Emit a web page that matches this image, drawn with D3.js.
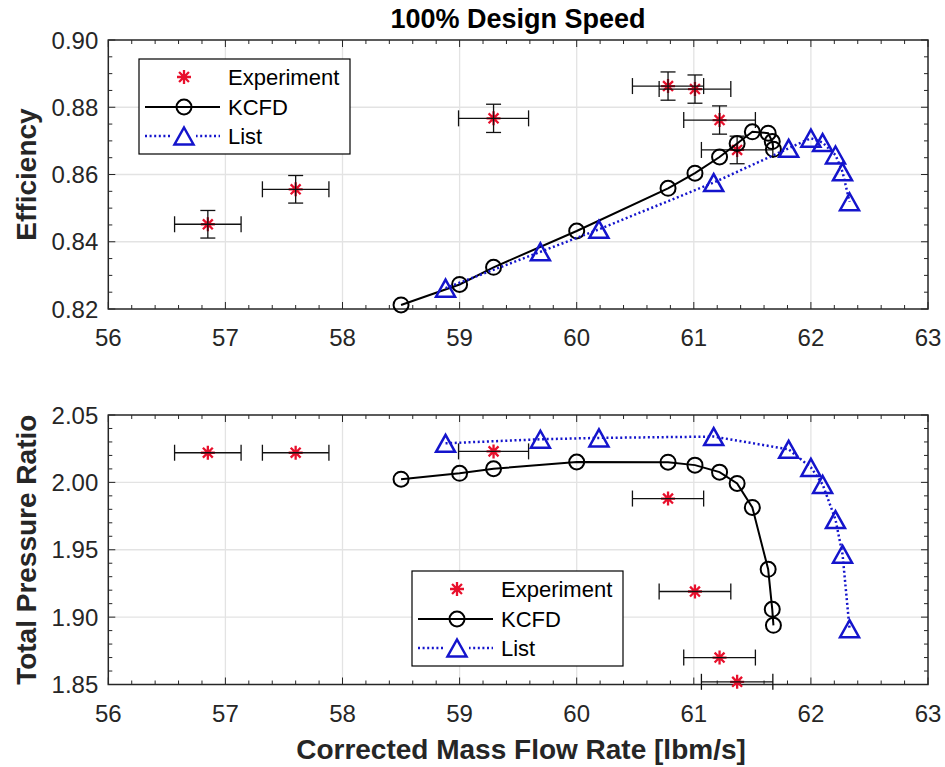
<!DOCTYPE html>
<html>
<head>
<meta charset="utf-8">
<script src="https://cdn.jsdelivr.net/npm/d3@7"></script>
<style>
  body { margin: 0; background: #fff; }
  svg { display: block; font-family: "Liberation Sans", Arial, Helvetica, sans-serif; }
</style>
</head>
<body>
<svg id="chart" width="945" height="767"></svg>
<script>
// experiment (with error bars)
const expFlow = [56.85, 57.60, 59.29, 60.78, 61.01, 61.22, 61.37];
const expFlowErr = [0.284, 0.284, 0.299, 0.304, 0.306, 0.306, 0.305];
const expEff = [0.8452, 0.8556, 0.8767, 0.8863, 0.8854, 0.8762, 0.8673];
const expEffErr = [0.0041, 0.0041, 0.0042, 0.0042, 0.0042, 0.0042, 0.0041];
const expPR = [2.022, 2.022, 2.023, 1.988, 1.919, 1.870, 1.852];

// KCFD
const kcfdFlow = [58.50, 59.00, 59.29, 60.00, 60.78, 61.01, 61.22, 61.37, 61.50, 61.635, 61.67, 61.68];
const kcfdEff = [0.8212, 0.8273, 0.8324, 0.8432, 0.8559, 0.8604, 0.8652, 0.8692, 0.8727, 0.8723, 0.8698, 0.8675];
const kcfdPR = [2.0024, 2.0067, 2.0101, 2.0151, 2.0150, 2.0128, 2.0076, 1.9992, 1.9814, 1.9355, 1.9058, 1.8939];

// List
const listFlow = [58.88, 59.69, 60.19, 61.17, 61.81, 62.00, 62.10, 62.21, 62.27, 62.33];
const listEff = [0.8262, 0.8370, 0.8437, 0.8576, 0.8678, 0.8708, 0.8695, 0.8658, 0.8608, 0.8519];
const listPR = [2.029, 2.032, 2.033, 2.034, 2.0245, 2.0111, 1.9985, 1.9724, 1.9467, 1.8914];

const xTicks = [56, 57, 58, 59, 60, 61, 62, 63];
const effTicks = [0.82, 0.84, 0.86, 0.88, 0.90];
const prTicks = [1.85, 1.90, 1.95, 2.00, 2.05];

const seriesNames = ["Experiment", "KCFD", "List"];

const textCol = "#262626";
const redCol = "#e8102c";
const blueCol = "#1414cc";

const svg = d3.select("#chart");

const x = d3.scaleLinear().domain([56, 63]).range([108.3, 928]);

const panels = [
  {
    y: d3.scaleLinear().domain([0.82, 0.90]).range([309, 40]),
    ticks: effTicks, minorStep: 0.005, label: "Efficiency",
    exp: expEff, expErr: expEffErr, kcfd: kcfdEff, list: listEff,
    legend: { x: 139, y: 59 }
  },
  {
    y: d3.scaleLinear().domain([1.85, 2.05]).range([684.5, 415]),
    ticks: prTicks, minorStep: 0.01, label: "Total Pressure Ratio",
    exp: expPR, expErr: null, kcfd: kcfdPR, list: listPR,
    legend: { x: 412, y: 571 }
  }
];

function asterisk(g, cx, cy, s) {
  const d = s * 0.7071;
  g.append("path")
    .attr("d", `M${cx - s},${cy}L${cx + s},${cy}M${cx},${cy - s}L${cx},${cy + s}` +
      `M${cx - d},${cy - d}L${cx + d},${cy + d}M${cx - d},${cy + d}L${cx + d},${cy - d}`)
    .attr("stroke", redCol).attr("stroke-width", 2.3).attr("fill", "none");
}

function triangle(g, cx, cy) {
  const w = 9.5, h = 8.5;
  g.append("path")
    .attr("d", `M${cx},${cy - h}L${cx + w},${cy + h}L${cx - w},${cy + h}Z`)
    .attr("fill", "none").attr("stroke", blueCol).attr("stroke-width", 2.5)
    .attr("stroke-linejoin", "miter");
}

function circleMark(g, cx, cy) {
  g.append("circle").attr("cx", cx).attr("cy", cy).attr("r", 7.5)
    .attr("fill", "none").attr("stroke", "#000").attr("stroke-width", 2);
}

panels.forEach((p) => {
  const y = p.y;
  const [y0, y1] = y.domain();
  const top = y.range()[1], bottom = y.range()[0];
  const left = x.range()[0], right = x.range()[1];
  const g = svg.append("g");

  // grid
  g.append("g").selectAll("line").data(xTicks.slice(1, -1)).join("line")
    .attr("x1", (d) => x(d)).attr("x2", (d) => x(d))
    .attr("y1", top).attr("y2", bottom)
    .attr("stroke", "#e3e3e3").attr("stroke-width", 1.3);
  g.append("g").selectAll("line").data(p.ticks.slice(1, -1)).join("line")
    .attr("x1", left).attr("x2", right)
    .attr("y1", (d) => y(d)).attr("y2", (d) => y(d))
    .attr("stroke", "#e3e3e3").attr("stroke-width", 1.3);

  // minor + major ticks on all sides (inward)
  const xMinor = d3.range(56, 63.0001, 0.2);
  const yMinor = d3.range(y0, y1 + 1e-9, p.minorStep);
  const tk = g.append("g").attr("stroke", textCol).attr("stroke-width", 1);
  xMinor.forEach((v) => {
    const major = xTicks.some((t) => Math.abs(t - v) < 1e-6);
    const len = major ? 7 : 4;
    tk.append("line").attr("x1", x(v)).attr("x2", x(v)).attr("y1", bottom).attr("y2", bottom - len);
    tk.append("line").attr("x1", x(v)).attr("x2", x(v)).attr("y1", top).attr("y2", top + len);
  });
  yMinor.forEach((v) => {
    const major = p.ticks.some((t) => Math.abs(t - v) < 1e-6);
    const len = major ? 7 : 4;
    tk.append("line").attr("x1", left).attr("x2", left + len).attr("y1", y(v)).attr("y2", y(v));
    tk.append("line").attr("x1", right).attr("x2", right - len).attr("y1", y(v)).attr("y2", y(v));
  });

  // box
  g.append("rect").attr("x", left).attr("y", top)
    .attr("width", right - left).attr("height", bottom - top)
    .attr("fill", "none").attr("stroke", textCol).attr("stroke-width", 1.5);

  // tick labels
  g.append("g").selectAll("text").data(xTicks).join("text")
    .attr("x", (d) => x(d)).attr("y", bottom + 37)
    .attr("text-anchor", "middle").attr("font-size", 24).attr("fill", textCol)
    .text((d) => d);
  g.append("g").selectAll("text").data(p.ticks).join("text")
    .attr("x", left - 10).attr("y", (d) => y(d) + 8.5)
    .attr("text-anchor", "end").attr("font-size", 24).attr("fill", textCol)
    .text((d) => d3.format(".2f")(d));

  // y label
  g.append("text")
    .attr("transform", `translate(36,${(top + bottom) / 2}) rotate(-90)`)
    .attr("text-anchor", "middle").attr("font-size", 28).attr("font-weight", "bold")
    .attr("fill", textCol).text(p.label);

  const plot = g.append("g");

  // experiment markers then error bars
  expFlow.forEach((fx, i) => asterisk(plot, x(fx), y(p.exp[i]), 7));
  const eb = plot.append("g").attr("stroke", "#111").attr("stroke-width", 1.3);
  expFlow.forEach((fx, i) => {
    const cy = y(p.exp[i]);
    const xa = x(fx - expFlowErr[i]), xb = x(fx + expFlowErr[i]);
    eb.append("line").attr("x1", xa).attr("x2", xb).attr("y1", cy).attr("y2", cy);
    eb.append("line").attr("x1", xa).attr("x2", xa).attr("y1", cy - 8).attr("y2", cy + 8);
    eb.append("line").attr("x1", xb).attr("x2", xb).attr("y1", cy - 8).attr("y2", cy + 8);
    if (p.expErr) {
      const ya = y(p.exp[i] - p.expErr[i]), yb = y(p.exp[i] + p.expErr[i]);
      eb.append("line").attr("x1", x(fx)).attr("x2", x(fx)).attr("y1", ya).attr("y2", yb);
      eb.append("line").attr("x1", x(fx) - 7.5).attr("x2", x(fx) + 7.5).attr("y1", ya).attr("y2", ya);
      eb.append("line").attr("x1", x(fx) - 7.5).attr("x2", x(fx) + 7.5).attr("y1", yb).attr("y2", yb);
    }
  });

  // KCFD line
  const line = d3.line().x((d) => x(d[0])).y((d) => y(d[1]));
  plot.append("path").datum(d3.zip(kcfdFlow, p.kcfd))
    .attr("d", line).attr("fill", "none").attr("stroke", "#000").attr("stroke-width", 2);
  kcfdFlow.forEach((fx, i) => circleMark(plot, x(fx), y(p.kcfd[i])));

  // List line
  plot.append("path").datum(d3.zip(listFlow, p.list))
    .attr("d", line).attr("fill", "none").attr("stroke", blueCol)
    .attr("stroke-width", 2.5).attr("stroke-dasharray", "2,2.6");
  listFlow.forEach((fx, i) => triangle(plot, x(fx), y(p.list[i])));

  // legend
  const lg = g.append("g").attr("transform", `translate(${p.legend.x},${p.legend.y})`);
  lg.append("rect").attr("width", 211).attr("height", 95)
    .attr("fill", "#fff").attr("stroke", "#000").attr("stroke-width", 1.2);
  const rows = [18, 48, 77];
  asterisk(lg, 45, rows[0], 7);
  lg.append("line").attr("x1", 6).attr("x2", 81).attr("y1", rows[1]).attr("y2", rows[1])
    .attr("stroke", "#000").attr("stroke-width", 2);
  circleMark(lg, 45, rows[1]);
  lg.append("line").attr("x1", 6).attr("x2", 81).attr("y1", rows[2]).attr("y2", rows[2])
    .attr("stroke", blueCol).attr("stroke-width", 2.5).attr("stroke-dasharray", "2,2.6");
  const tri = lg.append("g");
  tri.append("rect").attr("x", 33).attr("y", rows[2] - 10).attr("width", 24).attr("height", 20).attr("fill", "#fff");
  triangle(tri, 45, rows[2]);
  lg.selectAll("text.lab").data(seriesNames).join("text")
    .attr("x", 89).attr("y", (d, i) => rows[i] + 8)
    .attr("font-size", 22).attr("fill", "#000").text((d) => d);
});

// title and x label
svg.append("text").attr("x", 518).attr("y", 28).attr("text-anchor", "middle")
  .attr("font-size", 27).attr("font-weight", "bold").attr("fill", "#000")
  .text("100% Design Speed");
svg.append("text").attr("x", 521).attr("y", 759).attr("text-anchor", "middle")
  .attr("font-size", 28).attr("font-weight", "bold").attr("fill", textCol)
  .text("Corrected Mass Flow Rate [lbm/s]");
</script>
</body>
</html>
